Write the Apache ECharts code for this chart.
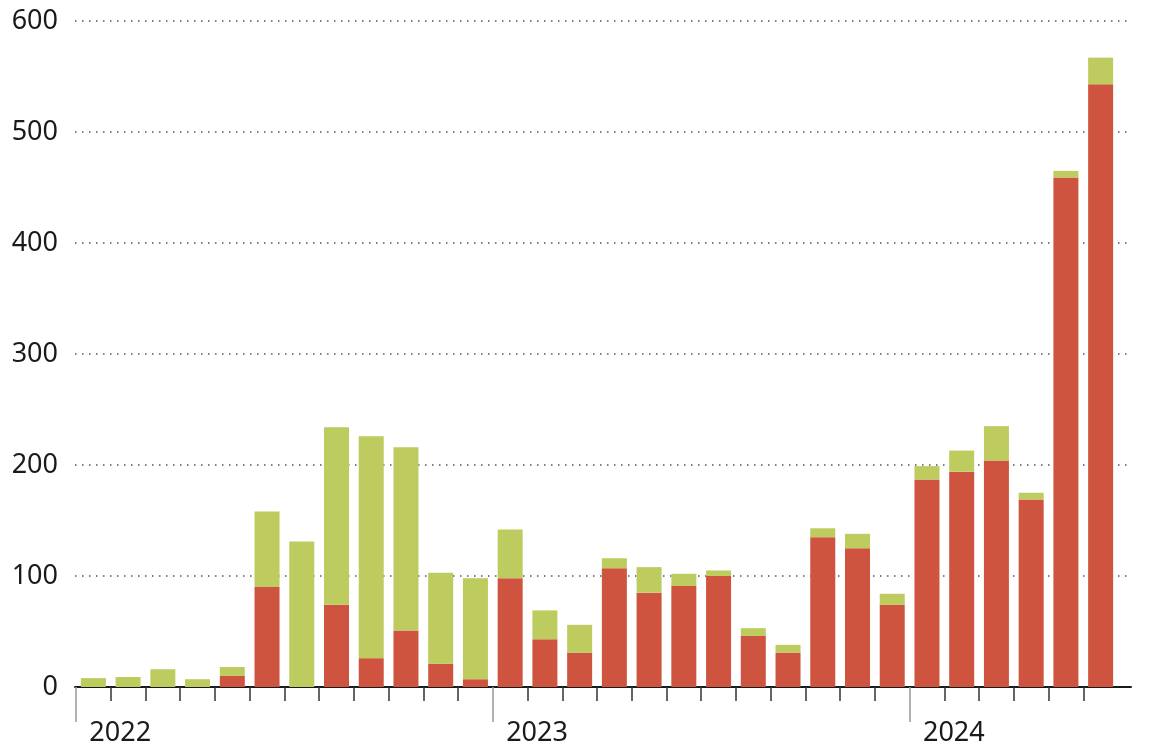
<!DOCTYPE html>
<html><head><meta charset="utf-8">
<script src="https://cdn.jsdelivr.net/npm/echarts@6/dist/echarts.min.js"></script>
<style>html,body{margin:0;padding:0;background:#fff}#c{width:1175px;height:749px}</style>
</head><body><div id="c"></div>
<script>
const months = ['2022-01','2022-02','2022-03','2022-04','2022-05','2022-06','2022-07','2022-08','2022-09','2022-10','2022-11','2022-12',
                '2023-01','2023-02','2023-03','2023-04','2023-05','2023-06','2023-07','2023-08','2023-09','2023-10','2023-11','2023-12',
                '2024-01','2024-02','2024-03','2024-04','2024-05','2024-06'];
const redValues = [0,0,0,0,10,90,0,74,26,51,21,7, 98,43,31,107,85,91,100,46,31,135,125,74, 187,194,204,169,459,543];
const greenValues = [8,9,16,7,8,68,131,160,200,165,82,91, 44,26,25,9,23,11,5,7,7,8,13,10, 12,19,31,6,6,24];
const yearLabels = ['2022','2023','2024'];

const FONT = 'Noto Sans';
const tickCats = months.concat(['','','','','','']);
const chart = echarts.init(document.getElementById('c'), null, {renderer:'canvas'});
chart.setOption({
  animation:false,
  backgroundColor:'#fff',
  grid:[
    {left:76, top:21, width:1042, bottom:62, outerBoundsMode:'none'},
    {left:75, top:21, right:44, bottom:62, outerBoundsMode:'none'},
    {left:76, top:21, width:1250.4, bottom:62, outerBoundsMode:'none'}
  ],
  xAxis:[
    {gridIndex:0, type:'category', position:'bottom', data:months, axisLine:{show:false}, axisTick:{show:false}, axisLabel:{show:false}},
    {gridIndex:1, type:'value', position:'bottom', min:0, max:1, axisLine:{show:true, lineStyle:{color:'#1a1a1a', width:2}}, axisTick:{show:false}, axisLabel:{show:false}, splitLine:{show:false}},
    {gridIndex:2, type:'category', position:'bottom', data:tickCats, axisLine:{show:false},
      axisTick:{show:true, interval:(i)=> i>0 && i<30 && i%12!==0, length:14, lineStyle:{color:'#333', width:1.5}},
      axisLabel:{show:false}},
    {gridIndex:2, type:'category', position:'bottom', data:tickCats, axisLine:{show:false},
      axisTick:{show:true, interval:(i)=> i<30 && i%12===0, length:35, lineStyle:{color:'#999', width:1.5}},
      axisLabel:{show:true, interval:(i)=> i<30 && i%12===0, formatter:(v,i)=> yearLabels[Math.floor(i/12)] || '',
        align:'left', verticalAlign:'middle', margin:46, padding:[0,0,0,-4], fontFamily:FONT, fontSize:27, color:'#1a1a1a'}}
  ],
  yAxis:[
    {gridIndex:0, type:'value', min:0, max:600, show:false},
    {gridIndex:1, type:'value', min:0, max:600, interval:100, axisLine:{show:false}, axisTick:{show:false},
      axisLabel:{fontFamily:FONT, fontSize:27, color:'#1a1a1a', margin:17},
      splitLine:{show:true, lineStyle:{type:[1.5,5.5], color:'#555', width:1.5}}},
    {gridIndex:2, type:'value', min:0, max:600, show:false}
  ],
  series:[
    {type:'bar', xAxisIndex:0, yAxisIndex:0, stack:'s', data:redValues, barWidth:25, itemStyle:{color:'#cf5440'}},
    {type:'bar', xAxisIndex:0, yAxisIndex:0, stack:'s', data:greenValues, barWidth:25, itemStyle:{color:'#bdcb5f'}}
  ]
});
</script></body></html>
